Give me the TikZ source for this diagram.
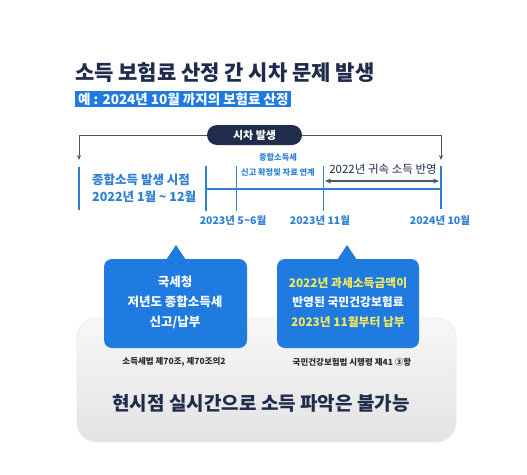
\documentclass[tikz,border=0pt]{standalone}
\usepackage{fontspec}
\setmainfont{Noto Sans CJK KR}
\usetikzlibrary{arrows.meta}
\definecolor{navy}{HTML}{1F2C4C}
\definecolor{tblue}{HTML}{2F80D5}
\definecolor{cblue}{HTML}{1F7BE0}
\definecolor{yel}{HTML}{F3E862}
\definecolor{conn}{HTML}{4A5868}
\definecolor{capc}{HTML}{2A2A2A}
\newcommand{\fs}[1]{\fontsize{#1}{#1}\selectfont}
\tikzset{
  tline/.style={draw=tblue, line width=1.3pt},
  connline/.style={draw=conn, line width=0.9pt, -{Stealth[length=5pt,width=4pt]}},
  bluetext/.style={text=tblue, font=\bfseries\fs{12.5}, inner sep=0pt},
  datelabel/.style={text=tblue, font=\bfseries\fs{10.5}, inner sep=0pt},
  smalltext/.style={text=tblue, font=\bfseries\fs{8.2}, inner sep=0pt},
  callout/.style={fill=cblue, rounded corners=8pt},
  boxtext/.style={font=\bfseries\fs{12.5}, inner sep=0pt},
  captext/.style={text=capc, font=\bfseries\fs{8.5}, inner sep=0pt}
}
\begin{document}
\begin{tikzpicture}[x=1pt,y=-1pt]
\useasboundingbox (0,0) rectangle (527,474);
\fill[white] (0,0) rectangle (527,474);
% title
\node[anchor=west, inner sep=0pt, text=navy, font=\bfseries\fs{21}] (title) at (75,73) {소득 보험료 산정 간 시차 문제 발생};
\node[anchor=west, fill=cblue, text=white, font=\bfseries\fs{13.5}, inner xsep=3pt, inner ysep=1pt, minimum height=16pt] (sub) at (75,99) {예 : 2024년 10월 까지의 보험료 산정};
% pill
\node[fill=navy, rounded corners=10pt, minimum width=95pt, minimum height=20pt, text=white, font=\bfseries\fs{11}, inner sep=0pt] (pill) at (254.5,135) {시차 발생};
\coordinate (aL) at (79,160);
\coordinate (aR) at (441,160);
\draw[connline] (pill.west) -| (aL);
\draw[connline] (pill.east) -| (aR);
% left marker
\draw[tline] (79,167) -- (79,210);
\node[bluetext, anchor=west] (occ1) at (92,180) {종합소득 발생 시점};
\node[bluetext, anchor=west] (occ2) at (92,197) {2022년 1월 \textasciitilde{} 12월};
% timeline
\coordinate (t0a) at (206,166); \coordinate (t0b) at (206,211);
\coordinate (t1a) at (236,166); \coordinate (t1b) at (236,211);
\coordinate (t2a) at (323,166); \coordinate (t2b) at (323,211);
\coordinate (t3a) at (441,166); \coordinate (t3b) at (441,209);
\draw[tline] (t0a) -- (t0b);
\draw[tline, line width=0.9pt] (t1a) -- (t1b);
\draw[tline, line width=0.9pt] (t2a) -- (t2b);
\draw[tline] (t3a) -- (t3b);
\draw[tline] (206,189) -- (441,189);
\node[smalltext] (s1) at (278,157) {종합소득세};
\node[smalltext] (s2) at (278,172) {신고 확정및 자료 연계};
% double arrow
\coordinate (da) at (325,181);
\coordinate (db) at (439,181);
\draw[draw=conn, line width=1.2pt, {Stealth[length=6pt,width=5pt]}-{Stealth[length=6pt,width=5pt]}] (da) -- (db);
\node[text=navy, font=\fs{11.5}, inner sep=0pt] (refl) at (383,169) {2022년 귀속 소득 반영};
% dates
\node[datelabel] (d1) at (233,221) {2023년 5\textasciitilde{}6월};
\node[datelabel] (d2) at (320,221) {2023년 11월};
\node[datelabel] (d3) at (440,221) {2024년 10월};
% grey panel
\shade[top color=white!94!gray, bottom color=white!78!gray, draw=green!8!white!90!gray, line width=0.8pt, rounded corners=20pt] (77,318) rectangle (456,442);
% callouts
\fill[callout] (104,259) rectangle (247,348);
\fill[cblue] (166,260) -- (176,245) -- (186,260) -- cycle;
\fill[callout] (277,259) rectangle (419,348);
\fill[cblue] (337,260) -- (347,245) -- (357,260) -- cycle;
\node[boxtext, text=white] (b1) at (175,282) {국세청};
\node[boxtext, text=white] (b2) at (175,302) {저년도 종합소득세};
\node[boxtext, text=white] (b3) at (175,322) {신고/납부};
\node[boxtext, text=yel, font=\bfseries\fs{11.8}] (c1) at (348,283) {2022년 과세소득금액이};
\node[boxtext, text=white, font=\bfseries\fs{11.8}] (c2) at (348,302) {반영된 국민건강보험료};
\node[boxtext, text=yel, font=\bfseries\fs{11.8}] (c3) at (348,322) {2023년 11월부터 납부};
% captions
\node[captext] (cap1) at (174,362) {소득세법 제70조, 제70조의2};
\node[captext] (cap2) at (352,362) {국민건강보험법 시행령 제41 ③항};
% conclusion
\node[text=navy, font=\bfseries\fs{19}, inner sep=0pt] (concl) at (261,403) {현시점 실시간으로 소득 파악은 불가능};
\end{tikzpicture}
\end{document}
